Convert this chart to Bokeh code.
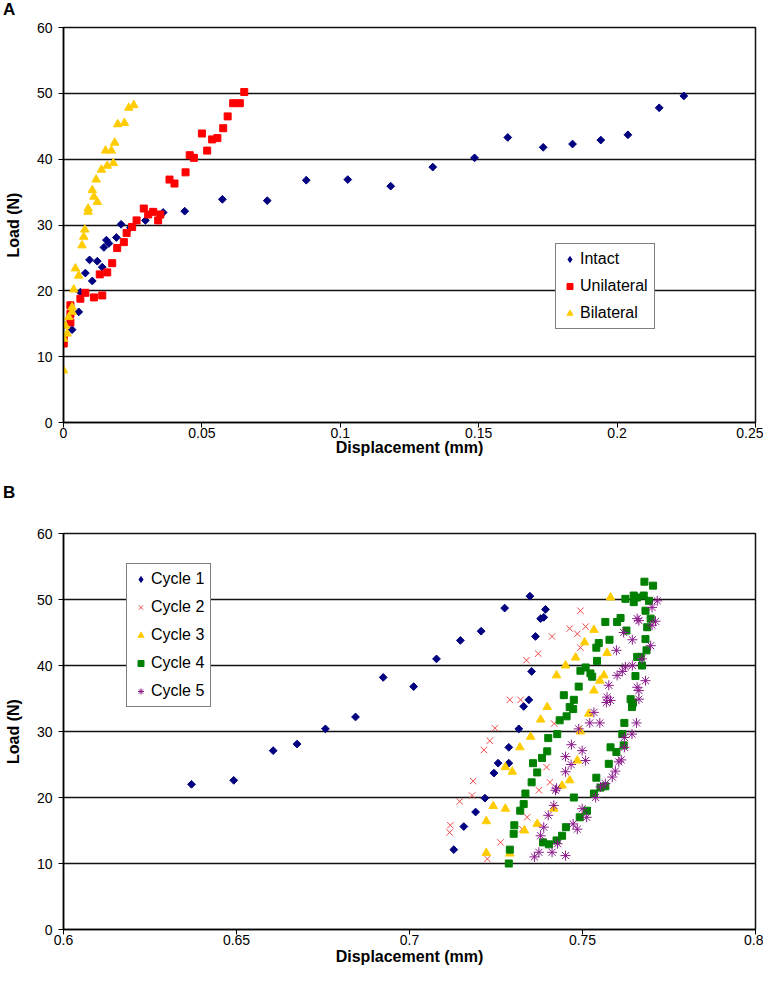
import numpy as np
from bokeh.plotting import figure
from bokeh.layouts import column
from bokeh.models import Range1d, FixedTicker, Legend, LegendItem, Div
from bokeh.embed import file_html
from bokeh.resources import INLINE

# ---------------- Panel A data ----------------
intact_x = [0.0, 0.0031, 0.0055, 0.0061, 0.0079, 0.0094, 0.0104, 0.0122, 0.0140, 0.0146, 0.0155, 0.0164,
            0.0191, 0.0208, 0.0242, 0.0296, 0.0360, 0.0438, 0.0574, 0.0736, 0.0877, 0.1027, 0.1182, 0.1334,
            0.1485, 0.1605, 0.1733, 0.1839, 0.1941, 0.2039, 0.2152, 0.2241]
intact_y = [14.7, 14.1, 16.8, 19.8, 22.7, 24.7, 21.5, 24.5, 23.6, 26.6, 27.7, 27.2,
            28.1, 30.1, 29.6, 30.7, 31.9, 32.1, 33.9, 33.7, 36.8, 36.9, 35.9, 38.8,
            40.2, 43.3, 41.8, 42.3, 42.9, 43.7, 47.8, 49.6]

uni_x = [0.0001, 0.0001, 0.0025, 0.0025, 0.0025, 0.0061, 0.0079, 0.0110, 0.0140, 0.0131, 0.0158, 0.0176,
         0.0194, 0.0218, 0.0228, 0.0248, 0.0264, 0.0306, 0.0290, 0.0324, 0.0342, 0.0350, 0.0383, 0.0401,
         0.0441, 0.0456, 0.0471, 0.0500, 0.0519, 0.0537, 0.0556, 0.0577, 0.0593, 0.0613, 0.0637, 0.0653]
uni_y = [12.0, 12.7, 15.2, 16.5, 17.8, 18.8, 19.7, 19.0, 19.3, 22.5, 22.8, 24.2,
         26.5, 27.4, 28.8, 29.7, 30.7, 31.6, 32.5, 32.0, 30.7, 31.6, 36.9, 36.3,
         38.0, 40.6, 40.2, 43.9, 41.3, 43.0, 43.2, 44.7, 46.5, 48.5, 48.5, 50.2]

bi_x = [0.0, 0.0001, 0.0013, 0.0007, 0.0019, 0.0031, 0.0031, 0.0037, 0.0055, 0.0043, 0.0067, 0.0073,
        0.0077, 0.0089, 0.0089, 0.0122, 0.0110, 0.0104, 0.0118, 0.0137, 0.0158, 0.0180, 0.0152, 0.0173,
        0.0185, 0.0196, 0.0220, 0.0236, 0.0254]
bi_y = [7.9, 12.7, 13.5, 14.7, 16.0, 16.8, 17.5, 20.2, 22.3, 23.4, 26.9, 28.2,
        29.3, 32.0, 32.5, 33.5, 34.3, 35.3, 36.9, 38.4, 39.0, 39.4, 41.3, 41.3,
        42.5, 45.3, 45.5, 47.8, 48.2]

# ---------------- Panel B data ----------------
c1_x = [0.637, 0.6492, 0.6606, 0.6675, 0.6757, 0.6844, 0.6924, 0.7012, 0.7078, 0.7147, 0.7207, 0.7275,
        0.7348, 0.7393, 0.7388, 0.7379, 0.7364, 0.7353, 0.7345, 0.7330, 0.7316, 0.7287, 0.7287, 0.7256,
        0.7244, 0.7218, 0.7191, 0.7157, 0.7128]
c1_y = [22.0, 22.6, 27.1, 28.1, 30.4, 32.2, 38.2, 36.8, 41.0, 43.8, 45.2, 48.7,
        50.5, 48.5, 47.3, 47.1, 44.4, 39.1, 34.8, 33.8, 30.4, 27.6, 25.2, 25.2,
        23.7, 19.9, 17.8, 15.6, 12.1]

c2_x = [0.7338, 0.7290, 0.7321, 0.7247, 0.7232, 0.7215, 0.7184, 0.7181, 0.7145, 0.7118, 0.7116, 0.7263,
        0.7225, 0.7340, 0.7326, 0.7494, 0.7463, 0.7485, 0.7509, 0.7412, 0.7494, 0.7372, 0.7418, 0.7396,
        0.7406, 0.7374]
c2_y = [40.8, 34.8, 34.8, 30.5, 28.6, 27.2, 22.5, 20.3, 19.4, 15.8, 14.7, 13.2,
        10.7, 17.0, 15.2, 48.3, 45.6, 44.8, 45.9, 44.4, 42.7, 41.8, 31.2, 24.6,
        22.3, 21.1]

c3_x = [0.7581, 0.7533, 0.7506, 0.7571, 0.7480, 0.7451, 0.7425, 0.7562, 0.7550, 0.7533, 0.7398, 0.7379,
        0.7350, 0.7319, 0.7277, 0.7297, 0.7494, 0.7518, 0.7485, 0.7463, 0.7441, 0.7417, 0.7369, 0.7332,
        0.7277, 0.7242, 0.7222, 0.7222, 0.7290]
c3_y = [50.3, 45.4, 43.5, 41.9, 41.2, 40.0, 38.5, 38.5, 37.7, 36.2, 33.7, 31.8,
        29.2, 27.6, 24.6, 23.9, 30.0, 32.7, 25.6, 22.6, 21.8, 18.3, 16.0, 15.0,
        18.3, 18.7, 16.4, 11.6, 11.5]

c4_x = [0.7624, 0.7648, 0.7566, 0.7600, 0.7610, 0.7627, 0.7578, 0.7547, 0.7540, 0.7542, 0.7509, 0.7494,
        0.7523, 0.7528, 0.7489, 0.7446, 0.7475, 0.7463, 0.7653, 0.7639, 0.7658, 0.7644,
        0.7473, 0.7454, 0.7434, 0.7427, 0.7401, 0.7398, 0.7383, 0.7357, 0.7369, 0.7353, 0.7335, 0.7330,
        0.7320, 0.7303, 0.7301, 0.7290, 0.7287,
        0.7475, 0.7492, 0.7452, 0.7441, 0.7425, 0.7403, 0.7386, 0.7513, 0.7533, 0.7540, 0.7552, 0.7566,
        0.7576, 0.7581, 0.7598, 0.7619, 0.7621, 0.7615, 0.7646,
        0.7679, 0.7704, 0.7658, 0.7677, 0.7692, 0.7648, 0.7682, 0.7697, 0.7687, 0.7682, 0.7685, 0.7668,
        0.7672, 0.7643]
c4_y = [50.1, 50.6, 46.6, 46.6, 47.2, 45.3, 43.9, 43.4, 42.7, 40.7, 39.7, 39.2,
        38.8, 38.3, 36.8, 35.5, 34.8, 33.7, 38.4, 34.9, 41.3, 34.2,
        33.4, 32.3, 31.7, 29.6, 29.0, 27.0, 26.0, 25.2, 23.8, 22.3, 20.6, 19.0,
        18.0, 15.8, 14.5, 12.1, 10.0,
        20.0, 17.0, 15.5, 14.2, 13.5, 12.9, 13.2, 18.0, 20.6, 23.0, 21.5, 21.7,
        25.1, 27.6, 26.9, 27.9, 31.3, 29.6, 34.4,
        52.7, 52.1, 50.3, 50.6, 49.8, 49.6, 48.3, 47.1, 45.8, 44.0, 42.3, 41.3,
        40.0, 33.7]

c5_x = [0.7716, 0.7701, 0.7663, 0.7711, 0.7701, 0.7644, 0.7697, 0.7672, 0.7644, 0.7682, 0.7663, 0.7663,
        0.7658, 0.7619, 0.7598, 0.7624, 0.7615, 0.7600, 0.7576, 0.7571, 0.7581, 0.7658,
        0.7569, 0.7533, 0.7521, 0.7550, 0.7489, 0.7468, 0.7499, 0.7509, 0.7451, 0.7467, 0.7451, 0.7425,
        0.7422, 0.7417, 0.7401, 0.7388, 0.7379, 0.7374, 0.7361, 0.7412, 0.7428, 0.7451, 0.7485, 0.7473,
        0.7499, 0.7512, 0.7538, 0.7552, 0.7566, 0.7586, 0.7595, 0.7605, 0.7612, 0.7621, 0.7621, 0.7643,
        0.7656]
c5_y = [49.8, 48.8, 46.8, 46.7, 46.1, 43.9, 43.0, 41.0, 40.0, 37.7, 36.2, 34.9,
        47.1, 45.0, 42.3, 39.8, 39.1, 38.5, 37.0, 35.2, 34.7, 36.7,
        34.4, 32.9, 31.3, 31.3, 30.4, 28.0, 27.1, 25.6, 26.2, 25.0, 23.9, 21.4,
        21.1, 18.8, 17.3, 15.5, 14.2, 11.7, 11.0, 11.7, 13.0, 11.2, 15.2, 16.0,
        18.3, 17.0, 20.0, 21.6, 22.1, 23.1, 24.0, 25.4, 25.7, 27.6, 29.1, 29.6,
        31.3]

y_ticks = [0, 10, 20, 30, 40, 50, 60]
xa_ticks = [0, 0.05, 0.1, 0.15, 0.2, 0.25]
xa_labels = ["0", "0.05", "0.1", "0.15", "0.2", "0.25"]
xb_ticks = [0.6, 0.65, 0.7, 0.75, 0.8]
xb_labels = ["0.6", "0.65", "0.7", "0.75", "0.8"]
legend_proxy = [np.nan]   # invisible point only used to draw the diamond legend key

FONT = "Liberation Sans"
NAVY, RED, YELLOW, GREEN, PINK, PURPLE = "#000080", "#FF0000", "#FFCC00", "#008000", "#F04848", "#8B1A8B"


def style(p, xticks, xlabels, xtitle_standoff):
    p.xaxis.ticker = FixedTicker(ticks=xticks)
    p.xaxis.major_label_overrides = {t: l for t, l in zip(xticks, xlabels)}
    p.yaxis.ticker = FixedTicker(ticks=y_ticks)
    for ax in (p.xaxis[0], p.yaxis[0]):
        ax.axis_line_color = "black"
        ax.axis_line_width = 1.5
        ax.major_tick_line_color = "black"
        ax.major_tick_line_width = 1
        ax.major_tick_out = 5
        ax.major_tick_in = 0
        ax.minor_tick_line_color = None
        ax.major_label_text_font = FONT
        ax.major_label_text_font_size = "14px"
        ax.major_label_text_color = "black"
        ax.axis_label_text_font = FONT
        ax.axis_label_text_font_size = "16px"
        ax.axis_label_text_font_style = "bold"
        ax.axis_label_text_color = "black"
    p.yaxis.major_label_standoff = 6
    p.yaxis.axis_label_standoff = 12
    p.xaxis.major_label_standoff = 0
    p.xaxis.axis_label_standoff = xtitle_standoff
    p.xgrid.grid_line_color = None
    p.ygrid.grid_line_color = "#111111"
    p.ygrid.grid_line_width = 1.5
    p.outline_line_color = "#111111"
    p.outline_line_width = 1.5
    p.background_fill_color = "white"
    p.border_fill_color = "white"


def make_legend(items, loc, spacing):
    return Legend(items=items, location=loc, label_text_font=FONT, label_text_font_size="16px",
                  label_text_color="black",
                  label_height=16, glyph_height=16, glyph_width=15, spacing=spacing, padding=6,
                  margin=0, label_standoff=3, border_line_color="black", border_line_width=1,
                  background_fill_color="white", background_fill_alpha=1)


def letter_div(letter, top_pad, h):
    html = ('<div style="font-family:\'Liberation Sans\',Arial,sans-serif;font-weight:bold;'
            'font-size:17px;line-height:17px;margin:0;padding:%dpx 0 0 3px;color:black;">%s</div>'
            % (top_pad, letter))
    return Div(text=html, width=40, height=h, margin=(0, 0, 0, 0))


# ---------------- Panel A ----------------
pa = figure(width=763, height=460, x_range=Range1d(0, 0.25), y_range=Range1d(0, 60),
            output_backend="svg", toolbar_location=None,
            min_border_left=63, min_border_right=8, min_border_top=9, min_border_bottom=56,
            x_axis_label="Displacement (mm)", y_axis_label="Load (N)")
style(pa, xa_ticks, xa_labels, -2)
ra1 = pa.scatter(intact_x, intact_y, marker="square", angle=np.pi / 4, size=5.5,
                 fill_color=NAVY, line_color=NAVY)
ra2 = pa.scatter(uni_x, uni_y, marker="square", size=7, fill_color=RED, line_color=RED)
ra3 = pa.scatter(bi_x, bi_y, marker="triangle", size=8.5, fill_color=YELLOW, line_color=YELLOW)
la1 = pa.scatter(legend_proxy, legend_proxy, marker="diamond", fill_color=NAVY, line_color=NAVY)
pa.add_layout(make_legend([LegendItem(label="Intact", renderers=[la1]),
                           LegendItem(label="Unilateral", renderers=[ra2]),
                           LegendItem(label="Bilateral", renderers=[ra3])], (492, 93), 9))

# ---------------- Panel B ----------------
pb = figure(width=763, height=474, x_range=Range1d(0.6, 0.8), y_range=Range1d(0, 60),
            output_backend="svg", toolbar_location=None,
            min_border_left=63, min_border_right=8, min_border_top=33, min_border_bottom=45,
            x_axis_label="Displacement (mm)", y_axis_label="Load (N)")
style(pb, xb_ticks, xb_labels, 0)
rb1 = pb.scatter(c1_x, c1_y, marker="square", angle=np.pi / 4, size=5.5,
                 fill_color=NAVY, line_color=NAVY)
rb2 = pb.scatter(c2_x, c2_y, marker="x", size=9, line_color=PINK, line_width=1)
rb3 = pb.scatter(c3_x, c3_y, marker="triangle", size=8.5, fill_color=YELLOW, line_color=YELLOW)
rb4 = pb.scatter(c4_x, c4_y, marker="square", size=7, fill_color=GREEN, line_color=GREEN)
rb5 = pb.scatter(c5_x, c5_y, marker="asterisk", size=10, line_color=PURPLE, line_width=1)
lb1 = pb.scatter(legend_proxy, legend_proxy, marker="diamond", fill_color=NAVY, line_color=NAVY)
pb.add_layout(make_legend([LegendItem(label="Cycle 1", renderers=[lb1]),
                           LegendItem(label="Cycle 2", renderers=[rb2]),
                           LegendItem(label="Cycle 3", renderers=[rb3]),
                           LegendItem(label="Cycle 4", renderers=[rb4]),
                           LegendItem(label="Cycle 5", renderers=[rb5])], (63, 222), 10))

layout = column(letter_div("A", 1, 18), pa, letter_div("B", 6, 22), pb, spacing=0)
open("out.html", "w").write(file_html(layout, INLINE))
